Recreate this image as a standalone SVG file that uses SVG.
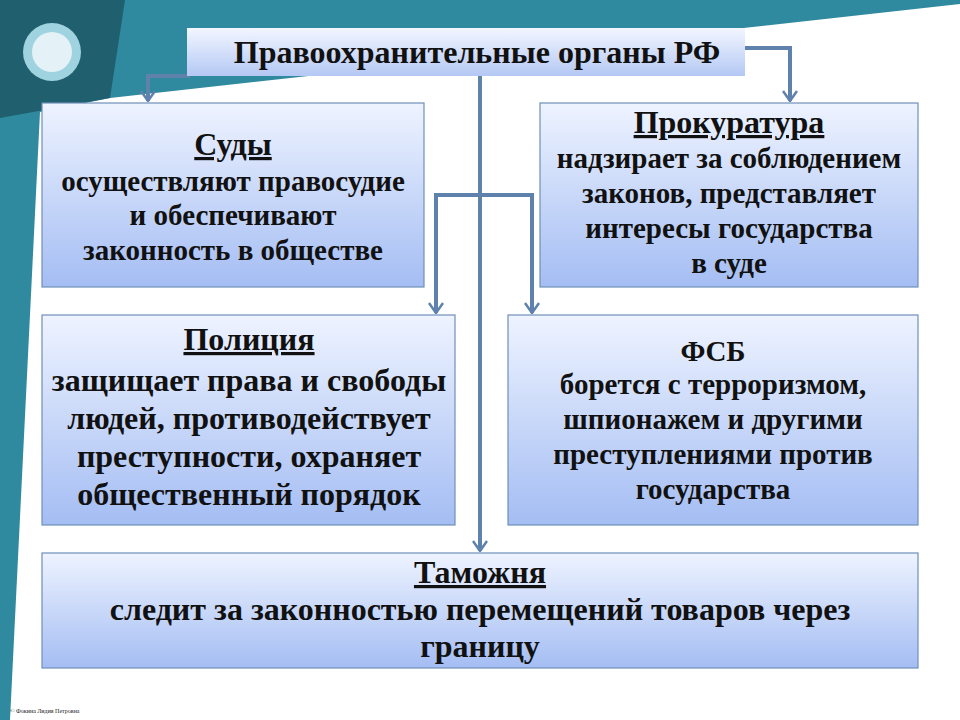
<svg xmlns="http://www.w3.org/2000/svg" width="960" height="720" viewBox="0 0 960 720">
<defs>
<linearGradient id="g" x1="0" y1="0" x2="0" y2="1">
<stop offset="0" stop-color="#eef3ff"/><stop offset="1" stop-color="#a4bdf3"/>
</linearGradient>
<linearGradient id="gt" x1="0" y1="0" x2="0" y2="1">
<stop offset="0" stop-color="#f3f6ff"/><stop offset="1" stop-color="#b4c8f4"/>
</linearGradient>
<marker id="a" viewBox="0 0 12 16" refX="11" refY="8" markerWidth="12" markerHeight="16" markerUnits="userSpaceOnUse" orient="auto-start-reverse">
<polyline points="1,1 11,8 1,15" fill="none" stroke="#5f82ad" stroke-width="2.5"/>
</marker>
<style>
.b{fill:url(#g);stroke:#6f8fb8;stroke-width:1.2}
.t{font-family:"Liberation Serif",serif;font-weight:bold;fill:#111;text-anchor:middle}
.h{font-size:32px;text-decoration:underline}
.p{font-size:29px}
.q{font-size:32px}
.c{fill:none;stroke:#5f82ad;stroke-width:4}
</style>
</defs>
<rect width="960" height="720" fill="#fff"/>
<polygon points="0,0 960,0 960,4 110,98 40,112 10,720 0,720" fill="#2f8aa0"/>
<polygon points="0,0 125,0 110,98 0,118" fill="#1f5f6e"/>
<circle cx="52" cy="52" r="29" fill="#9fd3e0"/>
<circle cx="52" cy="52" r="20" fill="#e4f1f7"/>
<g id="connectors">
<polyline class="c" points="190,76 148,76 148,101" marker-end="url(#a)"/>
<polyline class="c" points="745,48 790,48 790,101" marker-end="url(#a)"/>
<polyline class="c" points="480,76 480,551" marker-end="url(#a)"/>
<polyline class="c" points="436,313 436,195 532,195 532,313" marker-start="url(#a)" marker-end="url(#a)"/>
</g>
<g id="title"><rect x="187" y="28" width="558" height="48" fill="url(#gt)"/>
<text class="t" x="477" y="63" font-size="32">Правоохранительные  органы РФ</text></g>
<g id="sudy"><rect class="b" x="42" y="103" width="382" height="184"/>
<text class="t h" x="233" y="155">Суды</text>
<text class="t p" x="233" y="191">осуществляют правосудие</text>
<text class="t p" x="233" y="225">и обеспечивают</text>
<text class="t p" x="233" y="260">законность в обществе</text></g>
<g id="prok"><rect class="b" x="540" y="103" width="378" height="184"/>
<text class="t h" x="729" y="133">Прокуратура</text>
<text class="t p" x="729" y="168">надзирает за соблюдением</text>
<text class="t p" x="729" y="203">законов, представляет</text>
<text class="t p" x="729" y="238">интересы государства</text>
<text class="t p" x="729" y="273">в суде</text></g>
<g id="police"><rect class="b" x="42" y="315" width="413" height="210"/>
<text class="t h" x="249" y="350">Полиция</text>
<text class="t q" x="249" y="391">защищает права и свободы</text>
<text class="t q" x="249" y="429">людей, противодействует</text>
<text class="t q" x="249" y="467">преступности, охраняет</text>
<text class="t q" x="249" y="505">общественный порядок</text></g>
<g id="fsb"><rect class="b" x="508" y="315" width="410" height="210"/>
<text class="t" x="713" y="361" font-size="29">ФСБ</text>
<text class="t p" x="713" y="394">борется с терроризмом,</text>
<text class="t p" x="713" y="429">шпионажем и другими</text>
<text class="t p" x="713" y="464">преступлениями против</text>
<text class="t p" x="713" y="499">государства</text></g>
<g id="tam"><rect class="b" x="42" y="553" width="876" height="115"/>
<text class="t h" x="480" y="583">Таможня</text>
<text class="t q" x="480" y="620">следит за законностью перемещений товаров через</text>
<text class="t q" x="480" y="657">границу</text></g>
<text x="10" y="713" font-family="Liberation Serif,serif" font-size="6" fill="#222">© Фокина Лидия Петровна</text>
</svg>
